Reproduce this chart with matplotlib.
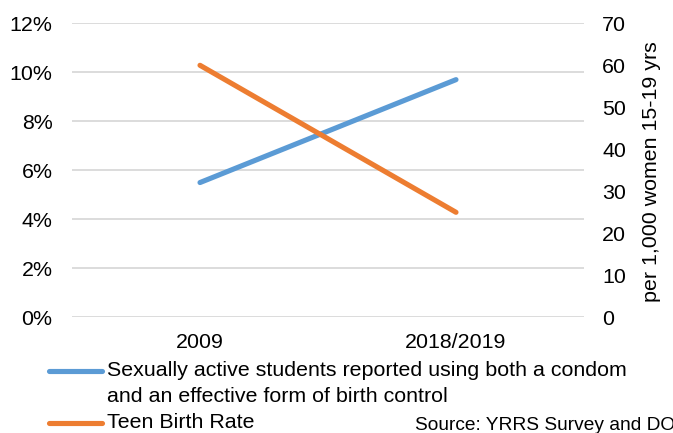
import matplotlib
matplotlib.use('Agg')
import matplotlib.pyplot as plt
from matplotlib.lines import Line2D
from matplotlib.ticker import FuncFormatter, MultipleLocator

plt.rcParams['font.family'] = ['Liberation Sans', 'DejaVu Sans']

years = ["2009", "2018/2019"]
condom_pct = [5.5, 9.7]        # % of sexually active students, left axis
birth_rate = [60, 25]          # per 1,000 women 15-19, right axis

blue = "#5B9BD5"
orange = "#ED7D31"
fs = 15.4

fig = plt.figure(figsize=(6.73, 4.33), dpi=100)
ax = fig.add_axes([72 / 673, 1 - 317.3 / 433, 512 / 673, 294 / 433])
ax2 = ax.twinx()

x = range(len(years))
ax.plot(x, condom_pct, color=blue, lw=3.7, solid_capstyle='round', zorder=3)
ax2.plot(x, birth_rate, color=orange, lw=3.7, solid_capstyle='round', zorder=3)

ax.set_xlim(-0.5, 1.5)
ax.set_ylim(0, 12)
ax2.set_ylim(0, 70)
ax.yaxis.set_major_locator(MultipleLocator(2))
ax2.yaxis.set_major_locator(MultipleLocator(10))
ax.yaxis.set_major_formatter(FuncFormatter(lambda v, p: f"{v:.0f}%"))

ax.set_xticks(list(x))
ax.set_xticklabels(years)
ax.grid(axis='y', color='#D9D9D9', lw=1.3)
ax.set_axisbelow(True)

for a in (ax, ax2):
    for s in a.spines.values():
        s.set_visible(False)
ax.tick_params(axis='both', length=0, labelsize=fs, colors='#000000')
ax.tick_params(axis='y', pad=14)
ax.tick_params(axis='x', pad=11)
ax2.tick_params(axis='y', length=0, labelsize=fs, pad=13)

ax2.set_ylabel("per 1,000 women 15-19 yrs", fontsize=fs, va='center')
ax2.yaxis.set_label_coords((652 - 72) / 512, (317.3 - 172) / 294)

# legend below the plot
def legend_line(y, color):
    fig.add_artist(Line2D([49 / 673, 102 / 673], [1 - y / 433] * 2,
                          color=color, lw=3.7, solid_capstyle='round'))

legend_line(371, blue)
fig.text(107 / 673, 1 - 371 / 433, "Sexually active students reported using both a condom",
         fontsize=fs, va='center', ha='left')
fig.text(107 / 673, 1 - 396 / 433, "and an effective form of birth control",
         fontsize=fs, va='center', ha='left')
legend_line(423, orange)
fig.text(107 / 673, 1 - 423 / 433, "Teen Birth Rate",
         fontsize=fs, va='center', ha='left')

fig.text(415 / 673, 1 - 425 / 433, "Source: YRRS Survey and DOH",
         fontsize=13.8, va='center', ha='left')

fig.savefig("out.png", dpi=100)
